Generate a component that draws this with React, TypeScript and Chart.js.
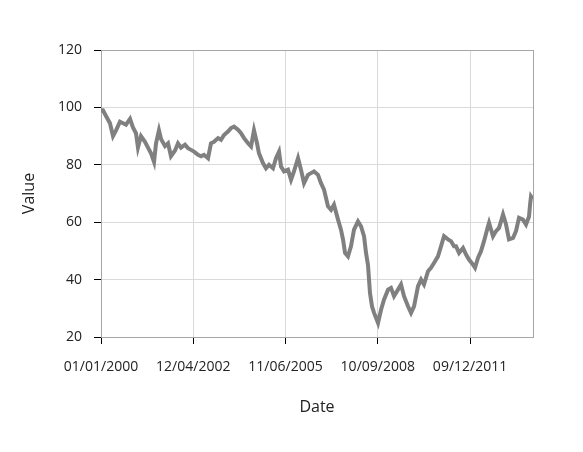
import React, { useEffect, useRef } from 'react';
import { Chart, registerables } from 'chart.js';

Chart.register(...registerables);

// Days since 01/01/2000
const dayOffsets = [
  0, 23, 58, 104, 139, 174, 220, 255, 289, 336, 370, 405, 428, 463, 509, 544, 579, 614, 637, 671,
  695, 741, 776, 810, 857, 891, 926, 972, 1007, 1042, 1077, 1123, 1158, 1192, 1239, 1273, 1308, 1355, 1389, 1424,
  1470, 1505, 1540, 1586, 1621, 1656, 1702, 1737, 1771, 1806, 1829, 1875, 1910, 1945, 1991, 2026, 2061, 2084, 2119, 2165,
  2200, 2234, 2281, 2315, 2350, 2396, 2431, 2466, 2512, 2547, 2582, 2628, 2663, 2697, 2744, 2778, 2802, 2825, 2859, 2894,
  2929, 2975, 3010, 3045, 3068, 3091, 3114, 3137, 3161, 3207, 3242, 3276, 3323, 3357, 3392, 3438, 3473, 3508, 3554, 3589,
  3624, 3670, 3705, 3739, 3786, 3820, 3855, 3901, 3936, 3971, 4017, 4052, 4087, 4110, 4145, 4191, 4226, 4260, 4307, 4330,
  4365, 4399, 4434, 4480, 4492, 4538, 4573, 4608, 4654, 4689, 4723, 4770, 4804, 4839, 4885, 4920, 4955, 4967, 4978, 5001,
];

const values = [
  99, 99, 97, 94.5, 90, 92, 95, 94.5, 94, 96, 93, 91, 86, 90, 88, 86, 84, 81, 87.5, 92,
  89, 86.5, 87.5, 83, 85, 87.5, 86, 87, 85.8, 85.2, 84.6, 83.5, 83, 83.5, 82.3, 87.5, 88, 89.3, 88.7, 90.4,
  91.6, 92.8, 93.3, 92.2, 91, 89.3, 87.5, 86.4, 92, 87.5, 84, 80.6, 78.8, 80, 78.8, 82.3, 84.6, 79.4, 77.7, 78.3,
  74.8, 77.7, 82.3, 78.3, 73.6, 76.5, 77.1, 77.7, 76.5, 73.6, 71.3, 65.5, 64.3, 66.1, 60.9, 57.4, 53.9, 49.3, 48.1, 51.6,
  57.4, 60.3, 58.6, 55.1, 49.3, 45, 35.3, 30.7, 28.4, 24.9, 29.5, 33, 36.5, 37.1, 34.2, 36.5, 38.3, 34.2, 30.7, 28.4,
  30.7, 37.7, 40, 38.3, 42.9, 44.1, 45.8, 48.1, 51.6, 55.1, 54, 53.4, 51.6, 51.6, 49.3, 51, 48.7, 47, 45.2, 44.1,
  47.6, 49.9, 53.4, 58.6, 59.8, 55.1, 56.9, 58, 62.7, 59.2, 54, 54.5, 56.9, 61.5, 60.9, 59.2, 62, 66.2, 69, 68,
];

const xTickDays = [0, 1068, 2136, 3204, 4272];
const xMaxDays = 5001;
const yMin = 20;
const yMax = 120;
const yStep = 20;

function formatDate(d: number): string {
  const dt = new Date(Date.UTC(2000, 0, 1) + d * 86400000);
  const mm = String(dt.getUTCMonth() + 1).padStart(2, '0');
  const dd = String(dt.getUTCDate()).padStart(2, '0');
  return `${mm}/${dd}/${dt.getUTCFullYear()}`;
}

const framePlugin = {
  id: 'frame',
  beforeDatasetsDraw(chart: any) {
    const { ctx, chartArea } = chart;
    ctx.save();
    ctx.strokeStyle = '#a6a6a6';
    ctx.lineWidth = 1;
    ctx.strokeRect(
      Math.round(chartArea.left) + 0.5,
      Math.round(chartArea.top) + 0.5,
      Math.round(chartArea.right - chartArea.left),
      Math.round(chartArea.bottom - chartArea.top)
    );
    ctx.restore();
  },
};

export default function App() {
  const ref = useRef<HTMLCanvasElement | null>(null);

  useEffect(() => {
    document.body.style.margin = '0';
    const canvas = ref.current;
    if (!canvas) return;
    const font = { family: '"Open Sans", "Noto Sans", sans-serif' };
    const chart = new Chart(canvas, {
      type: 'line',
      data: {
        datasets: [
          {
            data: dayOffsets.map((d, i) => ({ x: d, y: values[i] })),
            borderColor: '#808080',
            backgroundColor: '#808080',
            borderWidth: 4,
            pointRadius: 0,
            tension: 0,
            fill: false,
          },
        ],
      },
      options: {
        responsive: false,
        animation: false,
        layout: { padding: { top: 50, right: 50, left: 0, bottom: 0 } },
        plugins: { legend: { display: false }, tooltip: { enabled: false } },
        scales: {
          x: {
            type: 'linear',
            min: 0,
            max: xMaxDays,
            afterBuildTicks: (scale: any) => {
              scale.ticks = xTickDays.map((v) => ({ value: v }));
            },
            afterFit: (scale: any) => {
              scale.height = 115;
            },
            ticks: {
              autoSkip: false,
              maxRotation: 0,
              padding: 15,
              color: '#222222',
              font: { ...font, size: 14 },
              callback: (v: any) => formatDate(Number(v)),
            },
            grid: {
              color: '#dadada',
              tickColor: '#000000',
              tickLength: 7,
            },
            border: { display: false },
            title: {
              display: true,
              text: 'Date',
              color: '#222222',
              font: { ...font, size: 16 },
              padding: { top: 0, bottom: 35 },
            },
          },
          y: {
            type: 'linear',
            min: yMin,
            max: yMax,
            afterFit: (scale: any) => {
              scale.width = 101;
            },
            ticks: {
              stepSize: yStep,
              padding: 12,
              color: '#222222',
              font: { ...font, size: 14 },
            },
            grid: {
              color: '#dadada',
              tickColor: '#000000',
              tickLength: 7,
            },
            border: { display: false },
            title: {
              display: true,
              text: 'Value',
              color: '#222222',
              font: { ...font, size: 16 },
              padding: { top: 20, bottom: 0 },
            },
          },
        },
      },
      plugins: [framePlugin],
    } as any);
    return () => chart.destroy();
  }, []);

  return <canvas ref={ref} width={583} height={452} style={{ display: 'block' }} />;
}
